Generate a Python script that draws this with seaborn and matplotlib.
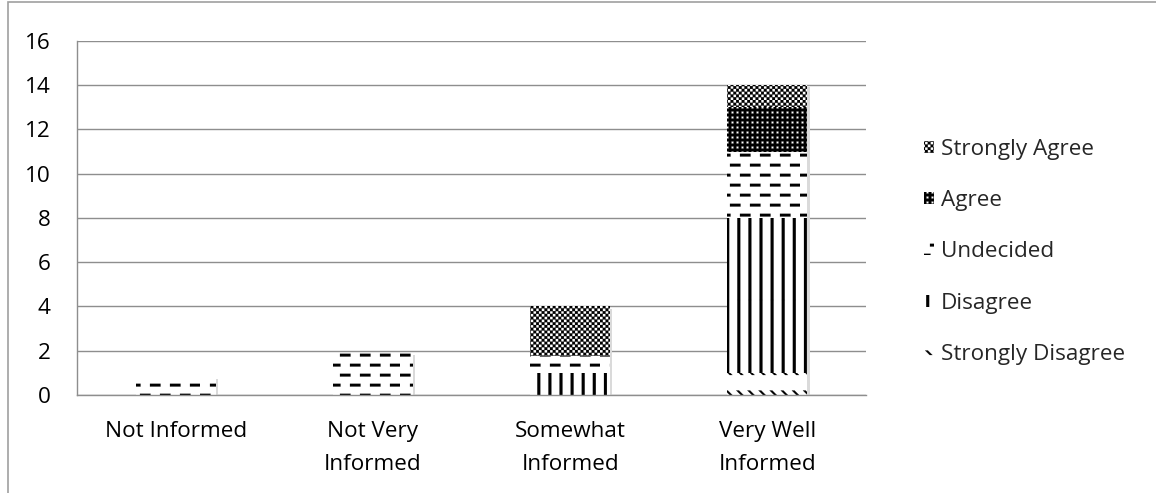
import numpy as np
import pandas as pd
import matplotlib
matplotlib.use("Agg")
import matplotlib.pyplot as plt
import matplotlib.hatch as mhatch
import matplotlib.transforms as mtransforms
from matplotlib.path import Path
from matplotlib.patches import Rectangle, Patch
import seaborn as sns

# ---- data -----------------------------------------------------------------
categories = ["Not Informed", "Not Very\nInformed", "Somewhat\nInformed", "Very Well\nInformed"]
series_names = ["Strongly Disagree", "Disagree", "Undecided", "Agree", "Strongly Agree"]
strongly_disagree = [0, 0, 0, 1]
disagree = [0, 0, 1, 7]
undecided = [0.8, 1.9, 0.75, 3]
agree = [0, 0, 0, 2]
strongly_agree = [0, 0, 2.25, 1]
y_ticks = [0, 2, 4, 6, 8, 10, 12, 14, 16]

series_values = [strongly_disagree, disagree, undecided, agree, strongly_agree]
series_hatch = ["\\", "|", "-", "o", "x"]


# ---- fill patterns (solid shapes inside one hatch tile) ---------------------
def _quad(pts):
    pts = list(pts)
    return pts + [pts[0]]


def _box(x, y, w, h, cw=False):
    if cw:
        return _quad([(x, y), (x, y + h), (x + w, y + h), (x + w, y)])
    return _quad([(x, y), (x + w, y), (x + w, y + h), (x, y + h)])


def _build_shapes(char):
    shapes = []
    if char == "x":                     # fine checkerboard
        n = 36
        c = 1.0 / n
        for i in range(n):
            for j in range(n):
                if (i + j) % 2 == 0:
                    shapes.append(_box(i * c, j * c, c, c))
    elif char == "o":                   # black with small white holes
        shapes.append(_box(0, 0, 1, 1))
        n = 20
        s = 0.022
        for i in range(n):
            for j in range(n):
                shapes.append(_box(i / n + 0.014, j / n + 0.014, s, s, cw=True))
    elif char == "-":                   # staggered horizontal dashes
        rows, per_row = 10, 5
        for r in range(rows):
            y = r / rows + 0.035
            off = 0.1 * (r % 2)
            for k in range(per_row):
                shapes.append(_box(off + k * 0.2, y, 0.105, 0.027))
    elif char == "|":                   # thick vertical bars
        n = 9
        for k in range(n):
            shapes.append(_box(k / n + 0.04, 0, 0.029, 1))
    elif char == "\\":                  # sparse short diagonal marks
        rows, cols = 5, 9
        d, w = 0.045, 0.026
        for r in range(rows):
            y = r / rows + 0.05
            for k in range(cols):
                x = k / cols + 0.03
                shapes.append(_quad([(x, y + d), (x + w, y + d), (x + d + w, y), (x + d, y)]))
    return shapes


class TilePattern(mhatch.HatchPatternBase):
    def __init__(self, hatch, density):
        self.shapes = _build_shapes(hatch[0]) if hatch else []
        self.num_vertices = 5 * len(self.shapes)

    def set_vertices_and_codes(self, vertices, codes):
        vertices[:] = np.asarray(self.shapes, dtype=float).reshape(-1, 2)
        codes[:] = np.tile([Path.MOVETO, Path.LINETO, Path.LINETO,
                            Path.LINETO, Path.CLOSEPOLY], len(self.shapes))


mhatch._hatch_types = [TilePattern]
Path.hatch.cache_clear()

# ---- style ----------------------------------------------------------------
sns.set_style("white")
plt.rcParams["font.family"] = ["Open Sans", "DejaVu Sans"]
plt.rcParams["hatch.linewidth"] = 0.15
plt.rcParams["hatch.color"] = "black"

axis_grey = "#8e8e8e"
font_size = 16.2

fig = plt.figure(figsize=(11.56, 4.93), dpi=100)
ax = fig.add_axes([0.0666, 0.199, 0.6826, 0.718])

df = pd.DataFrame({"category": categories})
totals = np.sum(series_values, axis=0)

# soft drop shadow behind each stacked column
shadow = mtransforms.offset_copy(ax.transData, fig=fig, x=1.6, y=-1.6, units="points")
ax.bar(np.arange(len(categories)), totals, width=0.405, color="#dadada",
       linewidth=0, transform=shadow, zorder=1)

bottom = np.zeros(len(categories))
for name, vals, hatch in zip(series_names, series_values, series_hatch):
    df[name] = vals
    sns.barplot(data=df, x="category", y=name, ax=ax, width=0.405,
                color="white", saturation=1,
                bottom=bottom.copy(), facecolor="white", edgecolor="black",
                hatch=hatch, linewidth=0, zorder=2, errorbar=None)
    bottom = bottom + np.asarray(vals, dtype=float)

# ---- axes -----------------------------------------------------------------
ax.set_xlim(-0.5, len(categories) - 0.5)
ax.set_ylim(0, 16)
ax.set_yticks(y_ticks)
ax.set_yticklabels([str(t) for t in y_ticks], fontsize=font_size)
ax.set_xticks(range(len(categories)))
ax.set_xticklabels(categories, fontsize=font_size, linespacing=1.72)
ax.set_xticks(np.arange(-0.5, len(categories)), minor=True)
ax.set_xlabel("")
ax.set_ylabel("")

ax.tick_params(axis="x", which="major", length=0, pad=19, colors="black")
ax.tick_params(axis="x", which="minor", length=6.5, width=1, color=axis_grey, direction="out")
ax.tick_params(axis="y", length=6.5, width=1, color=axis_grey, pad=12.5, labelcolor="black")

ax.yaxis.grid(True, color=axis_grey, linewidth=1)
ax.set_axisbelow(True)
for side in ("top", "right"):
    ax.spines[side].set_visible(False)
for side in ("left", "bottom"):
    ax.spines[side].set_color(axis_grey)
    ax.spines[side].set_linewidth(1)
    ax.spines[side].set_zorder(3)

# ---- legend ---------------------------------------------------------------
handles = [Patch(facecolor="white", edgecolor="black", linewidth=0, hatch=h)
           for h in series_hatch]
leg = fig.legend(handles[::-1], series_names[::-1], loc="center left",
                 bbox_to_anchor=(0.7915, 0.489), frameon=False, fontsize=font_size,
                 handlelength=0.45, handleheight=0.45, handletextpad=0.3,
                 labelspacing=1.35, borderaxespad=0)

# outer chart frame
fig.add_artist(Rectangle((7.5 / 1156, -0.05), 1.2, 1.05 - 1.5 / 493,
                         transform=fig.transFigure, fill=False,
                         edgecolor="#a0a0a0", linewidth=1.2))

fig.savefig("out.png", dpi=100)
